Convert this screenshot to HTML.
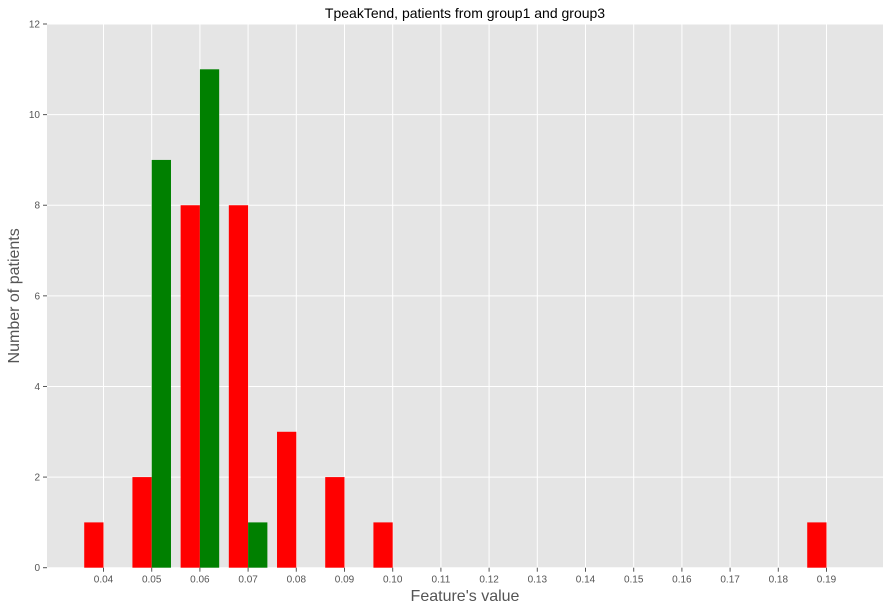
<!DOCTYPE html>
<html><head><meta charset="utf-8"><style>
body{margin:0;background:#fff;font-family:"Liberation Sans",sans-serif}
</style></head><body>
<svg id="c" width="893" height="611" xmlns="http://www.w3.org/2000/svg"></svg>
<script>
const categories=[0.04,0.05,0.06,0.07,0.08,0.09,0.10,0.11,0.12,0.13,0.14,0.15,0.16,0.17,0.18,0.19];
const group1Counts=[1,2,8,8,3,2,1,0,0,0,0,0,0,0,0,1];
const group3Counts=[0,9,11,1,0,0,0,0,0,0,0,0,0,0,0,0];
const yTicks=[0,2,4,6,8,10,12];
const xTickLabels=["0.04","0.05","0.06","0.07","0.08","0.09","0.10","0.11","0.12","0.13","0.14","0.15","0.16","0.17","0.18","0.19"];
const svg=document.getElementById('c');const NS='http://www.w3.org/2000/svg';
const L=47,R=883,T=24,B=567.7;
const xs=v=>103.5+(v-0.04)*4820;
const ys=v=>B-(v/12)*(B-T);
function el(t,a,p){const e=document.createElementNS(NS,t);for(const k in a)e.setAttribute(k,a[k]);(p||svg).appendChild(e);return e;}
const bg=el('rect',{x:L,y:T,width:R-L,height:B-T,fill:'#e5e5e5'});


yTicks.forEach(v=>{const y=ys(v);
 const g=el('line',{x1:L,x2:R,y1:y,y2:y,stroke:'#fff','stroke-width':1});
 
 
 el('line',{x1:L-4,x2:L,y1:y,y2:y,stroke:'#555'});
 const t=el('text',{x:L-7,y:y+3.5,'text-anchor':'end','font-size':10,fill:'#555'});t.textContent=v;
 
 
});
categories.forEach((c,i)=>{const x=xs(c);
 const g=el('line',{x1:x,x2:x,y1:T,y2:B,stroke:'#fff','stroke-width':1});
 
 
 el('line',{x1:x,x2:x,y1:B,y2:B+4,stroke:'#555'});
 const t=el('text',{x:x,y:B+15,'text-anchor':'middle','font-size':10,fill:'#555'});t.textContent=xTickLabels[i];
 
 
});
const bw=0.004;
categories.forEach((c,i)=>{
 if(group1Counts[i]>0){const r=el('rect',{x:xs(c-bw),y:ys(group1Counts[i]),width:xs(c)-xs(c-bw),height:B-ys(group1Counts[i]),fill:'#ff0000'});
  
  }
 if(group3Counts[i]>0){const r=el('rect',{x:xs(c),y:ys(group3Counts[i]),width:xs(c+bw)-xs(c),height:B-ys(group3Counts[i]),fill:'#008000'});
  
  }
});
let t=el('text',{x:(L+R)/2,y:18,'text-anchor':'middle','font-size':14,fill:'#000'});t.textContent='TpeakTend, patients from group1 and group3';


t=el('text',{x:(L+R)/2,y:601,'text-anchor':'middle','font-size':16,fill:'#555'});t.textContent="Feature's value";


t=el('text',{x:19,y:(T+B)/2,'text-anchor':'middle','font-size':16,fill:'#555',transform:'rotate(-90 19 '+((T+B)/2)+')'});t.textContent='Number of patients';


</script>
</body></html>
